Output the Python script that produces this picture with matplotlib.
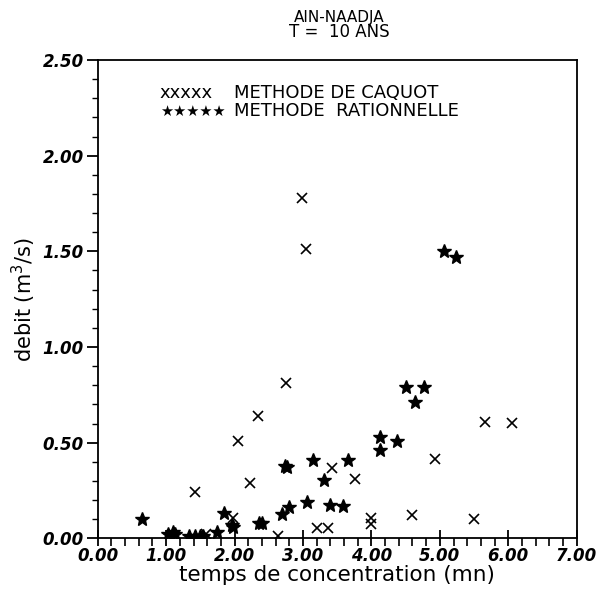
import matplotlib
matplotlib.use("Agg")
import matplotlib.pyplot as plt
from matplotlib.ticker import MultipleLocator, FormatStrFormatter

# Caquot method results: concentration time (mn) vs discharge (m3/s)
caquot_t = [2.99, 3.05, 2.75, 2.34, 2.05, 2.23, 1.42, 1.98, 2.64, 3.20, 3.37,
            3.43, 3.76, 4.00, 4.00, 4.59, 4.93, 5.50, 5.66, 6.05, 1.58]
caquot_q = [1.78, 1.51, 0.81, 0.64, 0.51, 0.29, 0.24, 0.105, 0.01, 0.055, 0.055,
            0.37, 0.31, 0.108, 0.075, 0.12, 0.415, 0.10, 0.61, 0.605, 0.02]

# Rational method results
ration_t = [0.65, 1.03, 1.10, 1.13, 1.33, 1.42, 1.50, 1.54, 1.74, 1.85, 1.96,
            1.98, 2.35, 2.40, 2.69, 2.80, 2.74, 2.76, 3.06, 3.14, 3.30, 3.40,
            3.59, 3.66, 4.12, 4.13, 4.38, 4.51, 4.77, 4.64, 5.06, 5.23]
ration_q = [0.10, 0.02, 0.035, 0.02, 0.01, 0.01, 0.01, 0.01, 0.035, 0.13, 0.07,
            0.058, 0.082, 0.079, 0.128, 0.166, 0.377, 0.374, 0.19, 0.41, 0.305,
            0.175, 0.17, 0.41, 0.53, 0.46, 0.51, 0.79, 0.79, 0.715, 1.50, 1.47]

title_lines = ["AIN-NAADJA", "T =  10 ANS"]
legend_labels = ["METHODE DE CAQUOT", "METHODE  RATIONNELLE"]

fig = plt.figure(figsize=(5.98, 6.08), dpi=100)
ax = fig.add_axes([0.1634, 0.1146, 0.8010, 0.7867])

ax.plot(caquot_t, caquot_q, linestyle="none", marker="x", color="black",
        markersize=7, markeredgewidth=1.2)
ax.plot(ration_t, ration_q, linestyle="none", marker="*", color="black",
        markersize=10)

ax.set_xlim(0, 7)
ax.set_ylim(0, 2.5)
ax.xaxis.set_major_locator(MultipleLocator(1.0))
ax.xaxis.set_minor_locator(MultipleLocator(0.2))
ax.yaxis.set_major_locator(MultipleLocator(0.5))
ax.yaxis.set_minor_locator(MultipleLocator(0.1))
ax.xaxis.set_major_formatter(FormatStrFormatter("%.2f"))
ax.yaxis.set_major_formatter(FormatStrFormatter("%.2f"))

for side in ["left", "bottom", "top", "right"]:
    ax.spines[side].set_linewidth(1.3)

ax.tick_params(axis="both", which="both", top=False, right=False, color="black")
ax.tick_params(axis="x", which="major", direction="inout", length=12, width=1.3, pad=0)
ax.tick_params(axis="x", which="minor", direction="out", length=6, width=1.2)
ax.tick_params(axis="y", which="major", direction="out", length=8, width=1.3, pad=2)
ax.tick_params(axis="y", which="minor", direction="out", length=4, width=1.0)

for lab in ax.get_xticklabels() + ax.get_yticklabels():
    lab.set_fontweight("bold")
    lab.set_fontstyle("italic")
    lab.set_fontsize(12)

ax.set_xlabel("temps de concentration (mn)", fontsize=15.5, labelpad=0)
ax.set_ylabel("debit (m$^3$/s)", fontsize=15, labelpad=3)

fig.text(0.568, 0.972, title_lines[0], ha="center", va="center", fontsize=11)
fig.text(0.568, 0.947, title_lines[1], ha="center", va="center", fontsize=12)

# legend drawn as marker strings followed by method names
ax.text(0.130, 0.931, "xxxxx", transform=ax.transAxes, fontsize=13, va="center")
ax.text(0.285, 0.931, legend_labels[0], transform=ax.transAxes, fontsize=13,
        va="center")
ax.text(0.130, 0.893, "★★★★★", transform=ax.transAxes, fontsize=10.5, va="center")
ax.text(0.285, 0.893, legend_labels[1], transform=ax.transAxes, fontsize=13,
        va="center")

fig.savefig("out.png", dpi=100, facecolor="white")
